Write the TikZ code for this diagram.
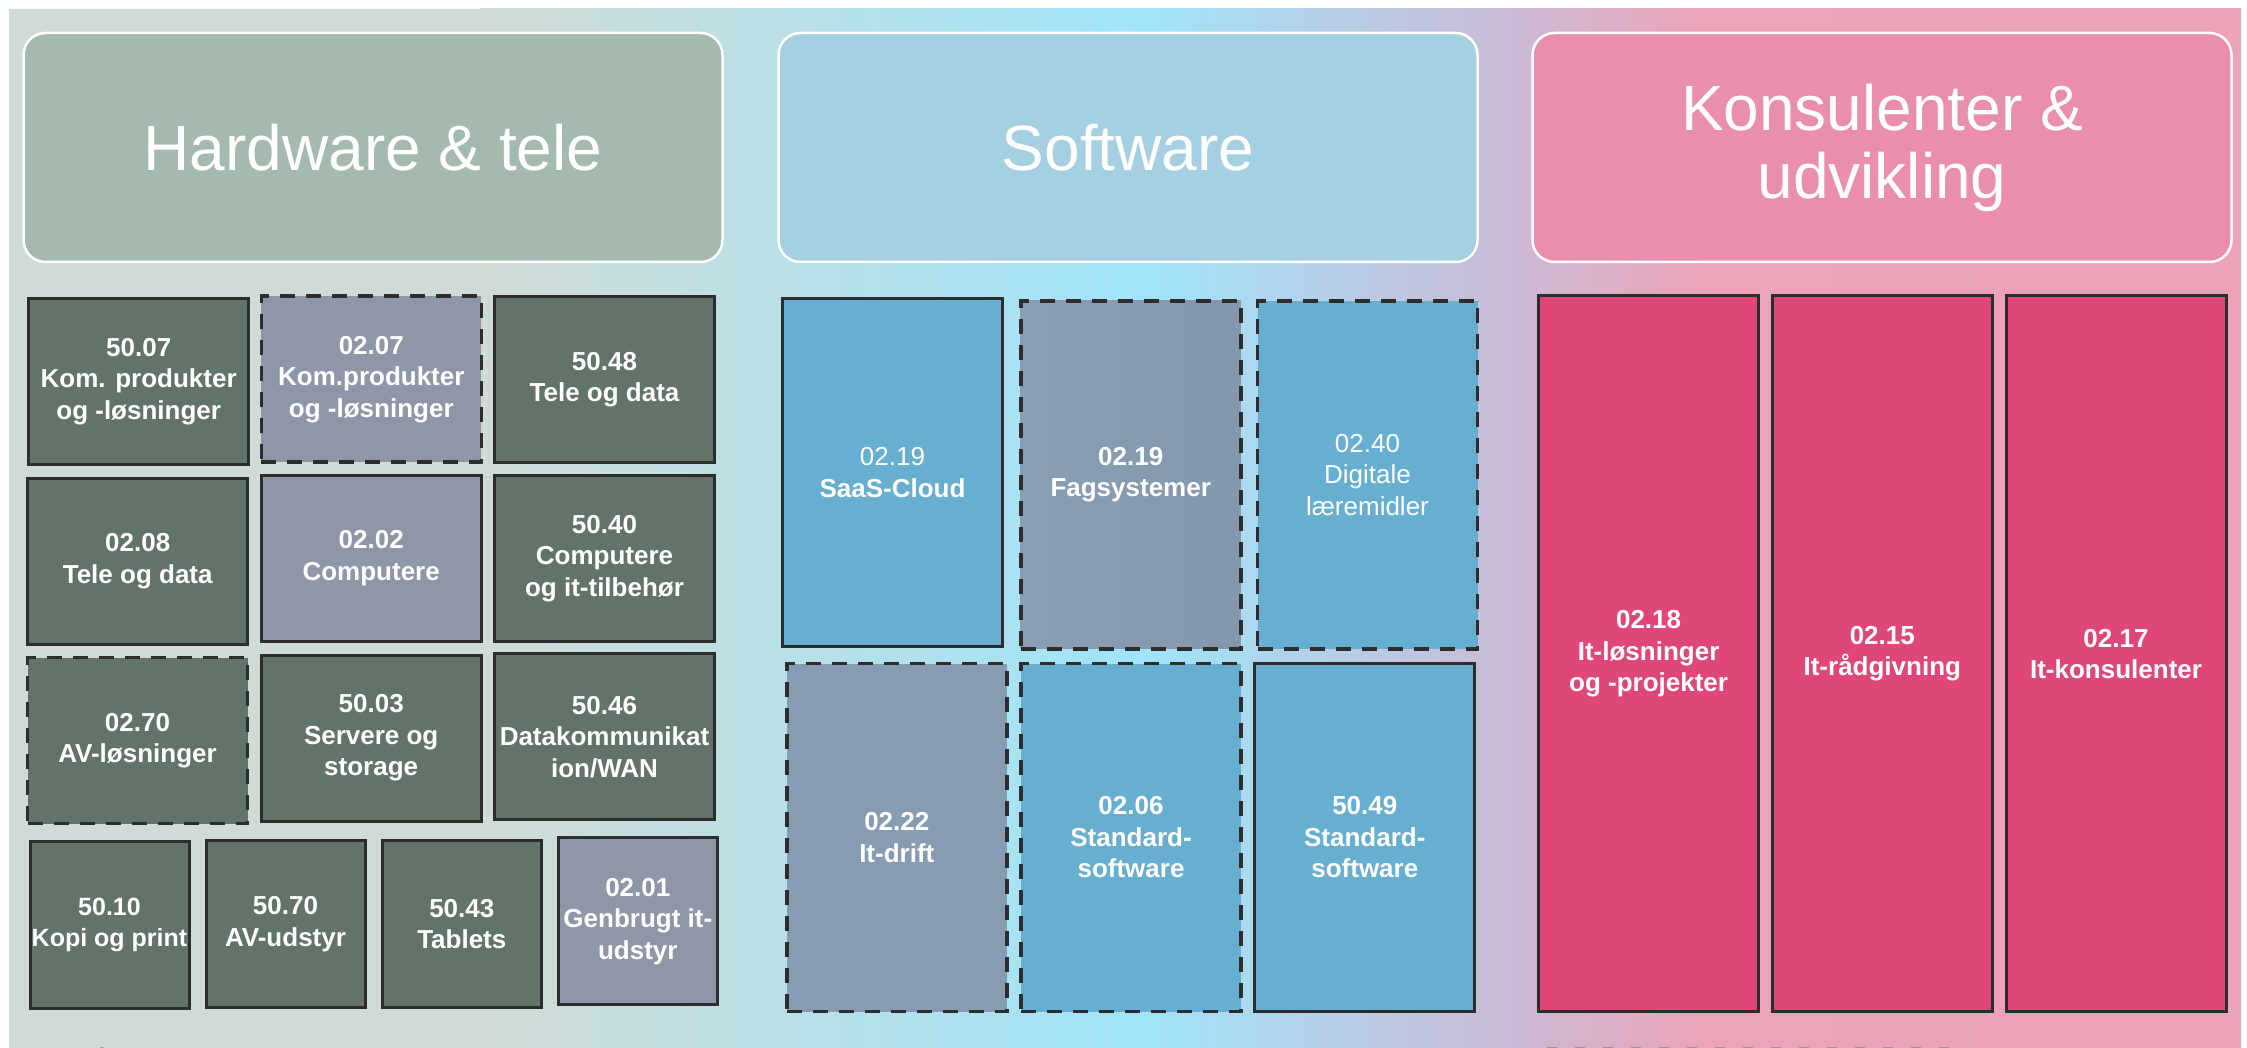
\documentclass[tikz,border=0pt]{standalone}
\usepackage{fontspec}
\setmainfont{Liberation Sans}
\definecolor{hwdark}{HTML}{627367}
\definecolor{graybox}{HTML}{8F96A7}
\definecolor{swblue}{HTML}{67AFD1}
\definecolor{swgray}{HTML}{879CB2}
\definecolor{pinkbox}{HTML}{DF4876}
\definecolor{hwhead}{HTML}{A4BAAF}
\definecolor{swhead}{HTML}{A4D0E2}
\definecolor{kuhead}{HTML}{E98FAB}
\definecolor{bordc}{HTML}{2D2D2D}
\definecolor{bgA}{HTML}{D1DBD6}
\definecolor{bgB}{HTML}{BCDFE5}
\definecolor{bgC}{HTML}{A0E4FA}
\definecolor{bgD}{HTML}{CBBAD6}
\definecolor{bgE}{HTML}{EBA4B8}
\definecolor{bgF}{HTML}{ECA2B7}
\definecolor{cutdash}{HTML}{A98A9A}
\newcommand{\tilefont}{\fontsize{26}{31.5}\selectfont\bfseries}
\newcommand{\hdrfont}{\fontsize{64}{68}\selectfont}
\tikzset{
  tile/.style={draw=bordc, line width=3pt, inner sep=0pt, align=center,
    text=white, font=\tilefont},
  dashtile/.style={tile, line width=3.6pt, dash pattern=on 15pt off 11pt},
  smallw/.style={minimum width=159pt, minimum height=167pt},
  midw/.style={minimum width=220pt, minimum height=166pt},
  tallw/.style={minimum width=220pt, minimum height=348pt},
  fullw/.style={minimum width=220pt, minimum height=716pt},
  header/.style={rounded corners=22pt, draw=white, line width=2.5pt,
    text=white, align=center, font=\hdrfont, inner sep=0pt,
    minimum width=699pt, minimum height=229pt}
}
\begin{document}
\begin{tikzpicture}[x=1pt,y=-1pt]
\useasboundingbox (0,0) rectangle (2247,1048);
\clip (0,0) rectangle (2247,1048);
\fill[white] (0,0) rectangle (2247,1048);
% background panel
\fill[bgA] (9,9) rectangle (481,1060);
\shade[left color=bgA, right color=bgB] (480,9) rectangle (741,1060);
\shade[left color=bgB, right color=bgC] (740,9) rectangle (1148,1060);
\shade[left color=bgC, right color=bgD] (1147,9) rectangle (1511,1060);
\shade[left color=bgD, right color=bgE] (1510,9) rectangle (1701,1060);
\shade[left color=bgE, right color=bgF] (1700,9) rectangle (2241,1060);
% headers
\node[header, fill=hwhead] (hhw) at (373,147.5) {Hardware \& tele};
\node[header, fill=swhead] (hsw) at (1128,147.5) {Software};
\node[header, fill=kuhead] (hku) at (1882,147.5) {Konsulenter \&\\udvikling};
% hardware tiles
\node[tile, midw, fill=hwdark] (t5007) at (138.7,381.3) {50.07\\Kom. produkter\\og -løsninger};
\node[dashtile, midw, fill=graybox] (t0207) at (371.3,379.3) {02.07\\Kom.produkter\\og -løsninger};
\node[tile, midw, fill=hwdark] (t5048) at (604.5,379.7) {50.48\\Tele og data};
\node[tile, midw, fill=hwdark] (t0208) at (137.7,561) {02.08\\Tele og data};
\node[tile, midw, fill=graybox] (t0202) at (371.2,558.3) {02.02\\Computere};
\node[tile, midw, fill=hwdark] (t5040) at (604.5,558.3) {50.40\\Computere\\og it-tilbehør};
\node[dashtile, midw, fill=hwdark] (t0270) at (137.5,740.5) {02.70\\AV-løsninger};
\node[tile, midw, fill=hwdark] (t5003) at (371.2,738) {50.03\\Servere og\\storage};
\node[tile, midw, fill=hwdark] (t5046) at (604.5,736.7) {50.46\\Datakommunikat\\ion/WAN};
\node[tile, smallw, fill=hwdark, font=\fontsize{25}{31.5}\selectfont\bfseries] (t5010) at (109.5,924.7) {50.10\\Kopi og print};
\node[tile, smallw, fill=hwdark] (t5070) at (285.5,924) {50.70\\AV-udstyr};
\node[tile, smallw, fill=hwdark] (t5043) at (461.8,924) {50.43\\Tablets};
\node[tile, smallw, fill=graybox] (t0201) at (637.8,921.3) {02.01\\Genbrugt it-\\udstyr};
% software tiles
\node[tile, tallw, fill=swblue] (t0219a) at (892.5,472.3) {{\mdseries 02.19}\\SaaS-Cloud};
\node[dashtile, tallw, left color=swgray!98!white, right color=swgray!97!black] (t0219b) at (1130.7,474.8) {02.19\\Fagsystemer};
\node[dashtile, tallw, fill=swblue, font=\fontsize{26}{31.5}\selectfont] (t0240) at (1367.5,474.8) {02.40\\Digitale\\læremidler};
\node[dashtile, tallw, fill=swgray] (t0222) at (896.8,837.5) {02.22\\It-drift};
\node[dashtile, tallw, fill=swblue] (t0206) at (1131,837.5) {02.06\\Standard-\\software};
\node[tile, tallw, fill=swblue] (t5049) at (1364.8,837.2) {50.49\\Standard-\\software};
% consultant tiles
\node[tile, fullw, fill=pinkbox] (t0218) at (1648.6,653.9) {02.18\\It-løsninger\\og -projekter};
\node[tile, fullw, fill=pinkbox] (t0215) at (1882.3,653.9) {02.15\\It-rådgivning};
\node[tile, fullw, fill=pinkbox] (t0217) at (2116,653.9) {02.17\\It-konsulenter};
% cut-off fragments at the bottom edge
\coordinate (cutA) at (1547,1048);
\coordinate (cutB) at (1950,1048);
\draw[cutdash, line width=3pt, dash pattern=on 10pt off 18pt] (cutA) -- (cutB);
\fill[hwdark!70!bgA] (102,1052) circle (5);
\end{tikzpicture}
\end{document}
